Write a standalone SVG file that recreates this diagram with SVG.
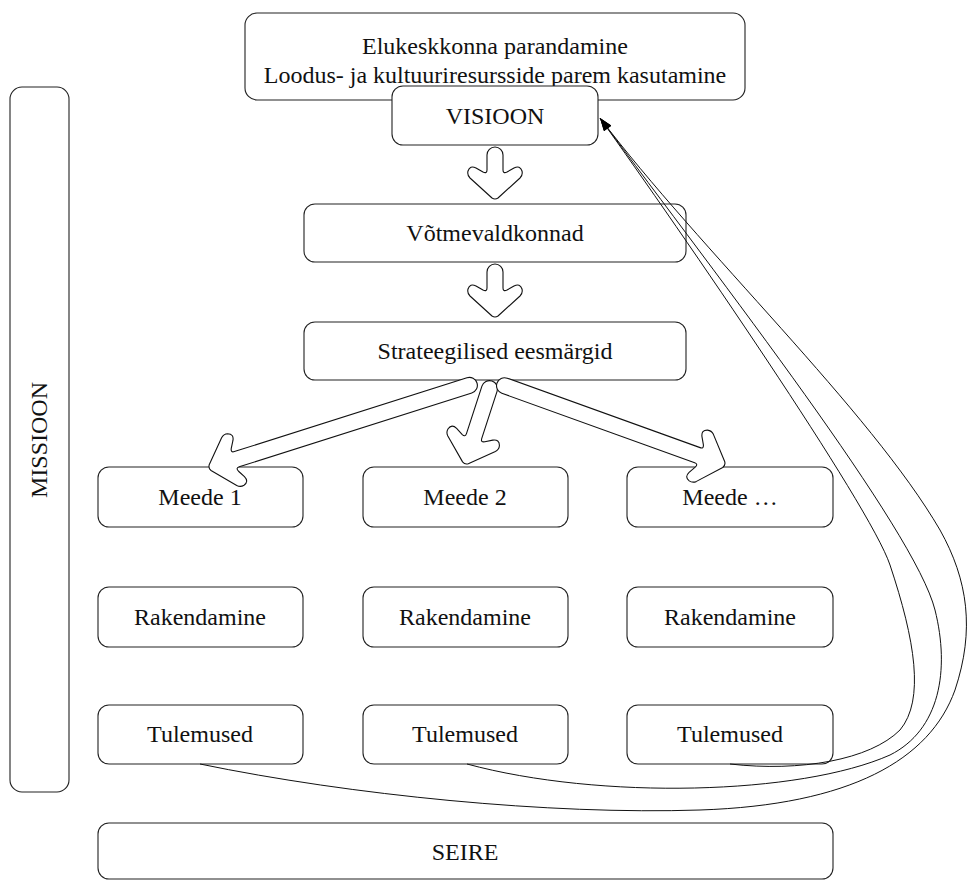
<svg xmlns="http://www.w3.org/2000/svg" width="970" height="881" viewBox="0 0 970 881">
<defs>
<style>
.box{fill:#fff;stroke:#222;stroke-width:1.1}
.t{font-family:"Liberation Serif","Times New Roman",serif;font-size:24px;fill:#111;text-anchor:middle}
.blk{fill:#fff;stroke:#111;stroke-width:1.1;stroke-linejoin:round}
.fb{fill:none;stroke:#111;stroke-width:1}
</style>
<marker id="ah" viewBox="0 0 10 7" refX="10" refY="3.5" markerUnits="userSpaceOnUse" markerWidth="14" markerHeight="9" orient="auto">
<path d="M0,0 L10,3.5 L0,7 z" fill="#000"/>
</marker>
</defs>
<rect width="970" height="881" fill="#fff"/>
<g id="missioon"><rect class="box" x="10" y="87" width="59" height="705" rx="12"/><text class="t" transform="translate(47,440) rotate(-90)">MISSIOON</text></g>
<g id="top"><rect class="box" x="245" y="13" width="500" height="87" rx="12"/><text class="t" x="495" y="54">Elukeskkonna parandamine</text><text class="t" x="495" y="83">Loodus- ja kultuuriresursside parem kasutamine</text></g>
<g id="visioon"><rect class="box" x="392" y="86" width="206" height="59" rx="11"/><text class="t" x="495" y="124">VISIOON</text></g>
<g id="votme"><rect class="box" x="304" y="204" width="382" height="58" rx="11"/><text class="t" x="495" y="241">Võtmevaldkonnad</text></g>
<g id="strat"><rect class="box" x="304" y="322" width="382" height="58" rx="11"/><text class="t" x="495" y="359">Strateegilised eesmärgid</text></g>
<g id="meede1"><rect class="box" x="98" y="467" width="205" height="60" rx="11"/><text class="t" x="200" y="505">Meede 1</text></g>
<g id="meede2"><rect class="box" x="363" y="467" width="205" height="60" rx="11"/><text class="t" x="465" y="505">Meede 2</text></g>
<g id="meede3"><rect class="box" x="627" y="467" width="206" height="60" rx="11"/><text class="t" x="730" y="505">Meede …</text></g>
<g id="rak1"><rect class="box" x="98" y="587" width="205" height="60" rx="11"/><text class="t" x="200" y="625">Rakendamine</text></g>
<g id="rak2"><rect class="box" x="363" y="587" width="205" height="60" rx="11"/><text class="t" x="465" y="625">Rakendamine</text></g>
<g id="rak3"><rect class="box" x="627" y="587" width="206" height="60" rx="11"/><text class="t" x="730" y="625">Rakendamine</text></g>
<g id="tul1"><rect class="box" x="98" y="705" width="205" height="59" rx="11"/><text class="t" x="200" y="742">Tulemused</text></g>
<g id="tul2"><rect class="box" x="363" y="705" width="205" height="59" rx="11"/><text class="t" x="465" y="742">Tulemused</text></g>
<g id="tul3"><rect class="box" x="627" y="705" width="206" height="59" rx="11"/><text class="t" x="730" y="742">Tulemused</text></g>
<g id="seire"><rect class="box" x="98" y="823" width="735" height="56" rx="11"/><text class="t" x="465" y="860">SEIRE</text></g>
<g id="connectors">
<path class="fb" marker-end="url(#ah)" d="M200,764 C350,795 550,815 700,810 C850,805 930,760 955,690 C975,630 968,580 940,530 C870,410 700,250 600,118"/>
<path class="fb" marker-end="url(#ah)" d="M467,764 C600,800 800,795 890,755 C940,730 950,670 935,610 C915,530 720,280 600,118"/>
<path class="fb" marker-end="url(#ah)" d="M730,764 C800,772 870,760 900,730 C925,700 915,640 890,565 C870,505 680,230 600,118"/>
<path class="blk" transform="translate(495,147)" d="M-8,8 A8,8 0 0 1 8,8 L8,23 Q8,27 12,25 L19,21 Q25,18 27,24 Q28,28 25,31 L3,51 Q0,53 -3,51 L-25,31 Q-28,28 -27,24 Q-25,18 -19,21 L-12,25 Q-8,27 -8,23 Z"/>
<path class="blk" transform="translate(495,264)" d="M-8,8 A8,8 0 0 1 8,8 L8,24 Q8,28 12,26 L19,22 Q25,19 27,25 Q28,29 25,32 L3,52 Q0,54 -3,52 L-25,32 Q-28,29 -27,25 Q-25,19 -19,22 L-12,26 Q-8,28 -8,24 Z"/>
<path class="blk" transform="translate(477,383) rotate(72.4)" d="M-8,8 A8,8 0 0 1 8,8 L8,252 Q8,256 12,254 L19,250 Q25,247 27,253 Q28,257 25,260 L3,280 Q0,282 -3,280 L-25,260 Q-28,257 -27,253 Q-25,247 -19,250 L-12,254 Q-8,256 -8,252 Z"/>
<path class="blk" transform="translate(492,381) rotate(18)" d="M-8,8 A8,8 0 0 1 8,8 L8,58 Q8,62 12,60 L19,56 Q25,53 27,59 Q28,63 25,66 L3,86 Q0,88 -3,86 L-25,66 Q-28,63 -27,59 Q-25,53 -19,56 L-12,60 Q-8,62 -8,58 Z"/>
<path class="blk" transform="translate(497,383) rotate(-70.2)" d="M-8,8 A8,8 0 0 1 8,8 L8,213 Q8,217 12,215 L19,211 Q25,208 27,214 Q28,218 25,221 L3,241 Q0,243 -3,241 L-25,221 Q-28,218 -27,214 Q-25,208 -19,211 L-12,215 Q-8,217 -8,213 Z"/>
</g>
</svg>
